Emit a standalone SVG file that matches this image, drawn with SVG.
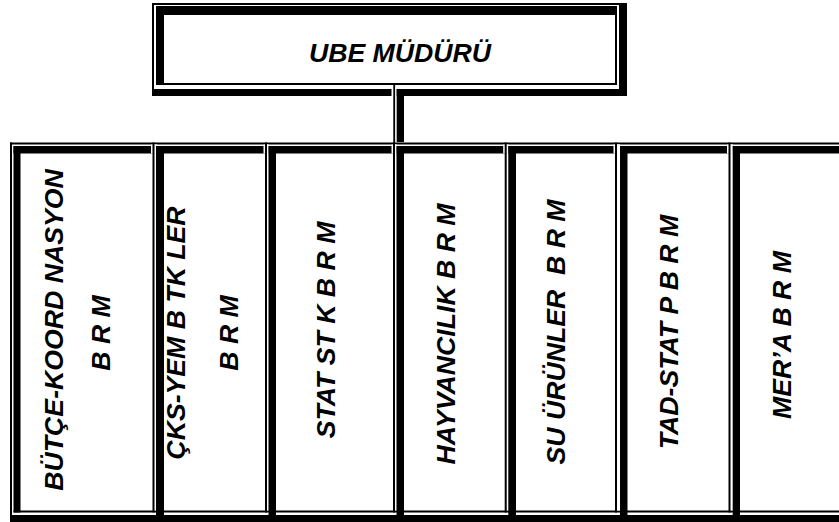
<svg xmlns="http://www.w3.org/2000/svg" width="839" height="522" viewBox="0 0 839 522">
<style>
.k{fill:#000}
.w{fill:#fff}
.lbl{font-family:"Liberation Sans",Arial,sans-serif;font-weight:bold;font-style:italic;font-size:26.67px;fill:#000}
</style>
<rect x="0" y="0" width="839" height="522" fill="#fff"/>

<g id="ube-muduru">
  <rect class="k" x="152" y="3" width="475" height="2"/>
  <rect class="k" x="152" y="3" width="2" height="93"/>
  <rect class="k" x="619" y="3" width="8" height="93"/>
  <rect class="k" x="152" y="89" width="475" height="7"/>
  <rect class="k" x="156" y="6" width="461" height="9"/>
  <rect class="k" x="156" y="6" width="8" height="79"/>
  <rect class="k" x="615" y="6" width="2" height="79"/>
  <rect class="k" x="156" y="83" width="461" height="2"/>
  <text class="lbl" x="400" y="62" text-anchor="middle">UBE MÜDÜRÜ</text>
</g>

<g id="connectors">
  <rect class="w" x="391.5" y="87" width="5.2" height="9"/>
  <rect class="k" x="393.3" y="83" width="1.8" height="60"/>
  <rect class="k" x="396.7" y="89" width="7.3" height="53"/>
</g>

<g id="units-frame">
  <rect class="k" x="10" y="142.5" width="829" height="2"/>
  <rect class="k" x="13.5" y="146" width="825.5" height="7.5"/>
  <rect class="k" x="13.5" y="510.5" width="825.5" height="2"/>
  <rect class="k" x="10" y="515" width="829" height="7"/>
  <rect class="k" x="10" y="142.5" width="2" height="379.5"/>
  <rect class="k" x="13.5" y="146" width="7" height="366.5"/>
</g>

<g id="butce-koordinasyon">
  <text class="lbl" transform="translate(62.5,330) rotate(-90)" text-anchor="middle">BÜTÇE-KOORD NASYON</text>
  <text class="lbl" transform="translate(110,333) rotate(-90)" text-anchor="middle">B R M</text>
</g>

<g id="cks-yem">
  <rect class="w" x="151" y="144.5" width="6" height="9"/>
  <rect class="w" x="154.5" y="144.5" width="1.5" height="366"/>
  <rect class="k" x="152.5" y="142.5" width="2" height="370"/>
  <rect class="k" x="156" y="146" width="8" height="369"/>
  <text class="lbl" transform="translate(185,333) rotate(-90)" text-anchor="middle">ÇKS-YEM B TK LER</text>
  <text class="lbl" transform="translate(238,333) rotate(-90)" text-anchor="middle">B R M</text>
</g>

<g id="statistik">
  <rect class="w" x="263.5" y="144.5" width="5" height="9"/>
  <rect class="w" x="267" y="144.5" width="1.5" height="366"/>
  <rect class="k" x="265" y="142.5" width="2" height="370"/>
  <rect class="k" x="268.5" y="146" width="7.5" height="369"/>
  <text class="lbl" transform="translate(335,330) rotate(-90)" text-anchor="middle">STAT ST K B R M</text>
</g>

<g id="hayvancilik">
  <rect class="w" x="391.5" y="144.5" width="5" height="9"/>
  <rect class="w" x="395" y="144.5" width="1.5" height="366"/>
  <rect class="k" x="393" y="142.5" width="2" height="370"/>
  <rect class="k" x="396.5" y="146" width="7.5" height="369"/>
  <text class="lbl" transform="translate(455,334) rotate(-90)" text-anchor="middle">HAYVANCILIK B R M</text>
</g>

<g id="su-urunleri">
  <rect class="w" x="503.2" y="144.5" width="5" height="9"/>
  <rect class="w" x="506.7" y="144.5" width="1.6" height="366"/>
  <rect class="k" x="504.7" y="142.5" width="2" height="370"/>
  <rect class="k" x="508.3" y="146" width="7.7" height="369"/>
  <text class="lbl" xml:space="preserve" transform="translate(565,332) rotate(-90)" text-anchor="middle">SU ÜRÜNLER  B R M</text>
</g>

<g id="tad-statip">
  <rect class="w" x="613.5" y="144.5" width="6.5" height="9"/>
  <rect class="w" x="617" y="144.5" width="3" height="366"/>
  <rect class="k" x="615" y="142.5" width="2" height="370"/>
  <rect class="k" x="620" y="146" width="7.5" height="369"/>
  <text class="lbl" transform="translate(678,332) rotate(-90)" text-anchor="middle">TAD-STAT P B R M</text>
</g>

<g id="meraa">
  <rect class="w" x="727" y="144.5" width="5.7" height="9"/>
  <rect class="w" x="730.5" y="144.5" width="2.2" height="366"/>
  <rect class="k" x="728.5" y="142.5" width="2" height="370"/>
  <rect class="k" x="732.7" y="146" width="7.3" height="369"/>
  <text class="lbl" transform="translate(791,335) rotate(-90)" text-anchor="middle">MER’A B R M</text>
</g>
</svg>
